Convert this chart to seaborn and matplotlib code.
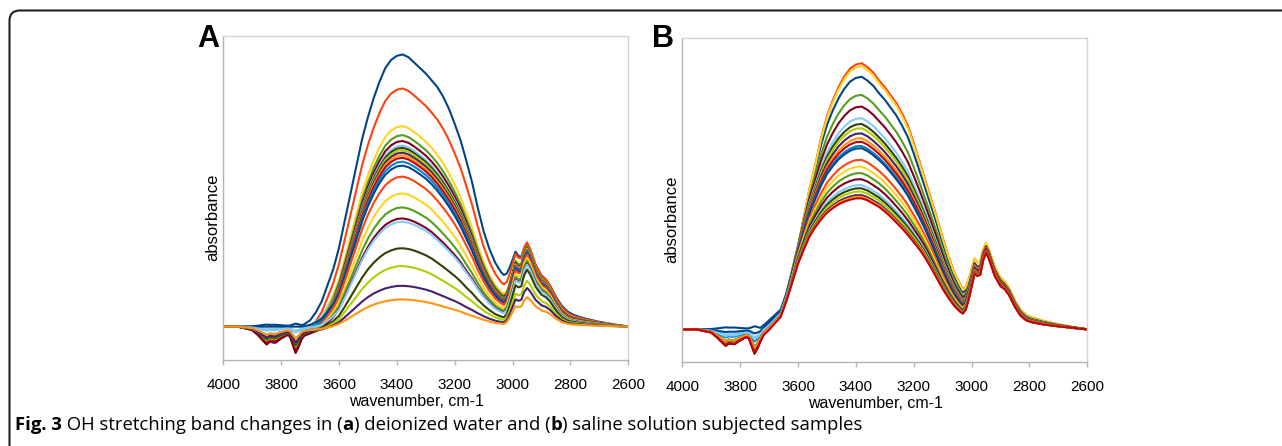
import numpy as np
import pandas as pd
import matplotlib
matplotlib.use("Agg")
import matplotlib.pyplot as plt
from matplotlib import font_manager
from matplotlib.patches import FancyBboxPatch
import seaborn as sns

# wavenumber grid (cm-1) the traces were read on
wavenumber = [4000, 3950, 3900, 3880, 3860, 3850, 3840, 3820, 3800, 3780,
              3770, 3760, 3750, 3740, 3730, 3720, 3700, 3680, 3660, 3640,
              3620, 3600, 3580, 3560, 3540, 3520, 3500, 3480, 3460, 3440,
              3420, 3400, 3380, 3360, 3340, 3320, 3300, 3280, 3260, 3240,
              3220, 3200, 3180, 3160, 3140, 3120, 3100, 3080, 3060, 3040,
              3030, 3020, 3010, 3000, 2990, 2980, 2970, 2960, 2950, 2940,
              2930, 2920, 2900, 2885, 2870, 2850, 2830, 2810, 2790, 2750,
              2700, 2650, 2600]

# OH band shape (normalised to 1) of the highest and lowest trace, panel A
oh_a_hi = [0.0] * 14 + [
    0.0, 0.005, 0.02, 0.05, 0.09, 0.15, 0.21, 0.29, 0.39, 0.49,
    0.59, 0.69, 0.77, 0.84, 0.90, 0.95, 0.98, 0.995, 1.0, 0.99,
    0.97, 0.95, 0.93, 0.905, 0.88, 0.845, 0.80, 0.745, 0.685, 0.61,
    0.53, 0.435, 0.35, 0.285, 0.235, 0.20, 0.19, 0.18, 0.17, 0.16,
    0.15, 0.14, 0.13, 0.12, 0.11, 0.105, 0.10, 0.095, 0.085, 0.078,
    0.07, 0.06, 0.05, 0.04, 0.032, 0.022, 0.013, 0.006, 0.0]
oh_a_lo = [0.0] * 14 + [
    0.0, 0.0, 0.0, 0.0, 0.0, 0.02, 0.05, 0.10, 0.22, 0.35,
    0.48, 0.61, 0.72, 0.81, 0.88, 0.935, 0.97, 0.995, 1.0, 0.99,
    0.97, 0.94, 0.905, 0.86, 0.80, 0.74, 0.68, 0.62, 0.55, 0.47,
    0.40, 0.32, 0.25, 0.19, 0.14, 0.11, 0.10, 0.09, 0.085, 0.08,
    0.075, 0.07, 0.065, 0.06, 0.055, 0.05, 0.048, 0.045, 0.04, 0.036,
    0.032, 0.028, 0.024, 0.02, 0.017, 0.012, 0.007, 0.003, 0.0]

# same for panel B
oh_b_hi = [0.0] * 14 + [
    0.0, 0.01, 0.03, 0.05, 0.07, 0.13, 0.22, 0.31, 0.42, 0.53,
    0.62, 0.72, 0.80, 0.86, 0.91, 0.95, 0.98, 0.995, 1.0, 0.985,
    0.965, 0.935, 0.91, 0.88, 0.85, 0.81, 0.765, 0.70, 0.63, 0.56,
    0.49, 0.42, 0.345, 0.275, 0.215, 0.17, 0.15, 0.14, 0.13, 0.12,
    0.112, 0.105, 0.10, 0.095, 0.09, 0.085, 0.08, 0.076, 0.068, 0.062,
    0.056, 0.047, 0.04, 0.034, 0.03, 0.022, 0.013, 0.006, 0.0]
oh_b_lo = [0.0] * 14 + [
    0.0, 0.02, 0.05, 0.09, 0.13, 0.24, 0.37, 0.50, 0.61, 0.71,
    0.78, 0.84, 0.89, 0.925, 0.955, 0.975, 0.99, 1.0, 1.0, 0.985,
    0.96, 0.935, 0.90, 0.86, 0.815, 0.77, 0.72, 0.665, 0.61, 0.545,
    0.47, 0.39, 0.31, 0.24, 0.18, 0.135, 0.12, 0.11, 0.10, 0.09,
    0.085, 0.08, 0.075, 0.07, 0.066, 0.062, 0.058, 0.055, 0.05, 0.046,
    0.042, 0.036, 0.03, 0.026, 0.022, 0.016, 0.01, 0.005, 0.0]

# CH stretching bands (normalised to 1 at 2950)
ch_band = [0.0] * 50 + [
    0.0, 0.08, 0.25, 0.45, 0.66, 0.63, 0.66, 0.88, 1.0, 0.92,
    0.80, 0.68, 0.54, 0.50, 0.42, 0.26, 0.14, 0.08, 0.06, 0.04,
    0.025, 0.012, 0.0]

# water vapour dips below the baseline
vapour = [0.0, 0.0, 0.008, 0.02, 0.035, 0.042, 0.036, 0.038, 0.028, 0.02,
          0.022, 0.042, 0.062, 0.048, 0.03, 0.022, 0.018, 0.015, 0.012, 0.008,
          0.004] + [0.0] * 52

colors12 = ["#004586", "#ff420e", "#ffd320", "#579d1c", "#7e0021", "#83caff",
            "#314004", "#aecf00", "#4b1f6f", "#ff950e", "#c5000b", "#0084d1"]

# panel A: deionized water
base_a = 0.103
peak_a = [0.943, 0.838, 0.722, 0.694, 0.676, 0.662, 0.655, 0.648, 0.640, 0.632,
          0.624, 0.612, 0.600, 0.566, 0.514, 0.471, 0.437, 0.427, 0.345, 0.290,
          0.229, 0.187]
ch_a = [0.16, 0.185, 0.19, 0.195, 0.19, 0.19, 0.195, 0.19, 0.19, 0.195,
        0.19, 0.19, 0.185, 0.185, 0.18, 0.175, 0.17, 0.168, 0.16, 0.13,
        0.112, 0.086]
vap_a = [-0.15, 1.0, 1.0, 1.0, 1.3, 0.2, 0.9, 0.9, 0.9, 0.9,
         1.2, 0.6, 0.0, 1.0, 1.0, 1.0, 1.3, 0.3, 0.9, 0.8,
         0.8, 0.6]

# panel B: saline solution
base_b = 0.100
peak_b = [0.881, 0.923, 0.914, 0.825, 0.789, 0.753, 0.735, 0.722, 0.706, 0.691,
          0.680, 0.667, 0.660, 0.624, 0.603, 0.583, 0.564, 0.546, 0.536, 0.526,
          0.515, 0.510, 0.505]
ch_b = [0.17, 0.192, 0.195, 0.195, 0.2, 0.2, 0.2, 0.2, 0.2, 0.2,
        0.205, 0.2, 0.2, 0.205, 0.205, 0.205, 0.21, 0.21, 0.21, 0.21,
        0.21, 0.21, 0.21]
vap_b = [-0.15, 1.0, 0.9, 1.0, 1.2, 0.4, 0.9, 0.9, 0.9, 0.9,
         1.2, 0.6, 0.2, 1.0, 1.0, 1.0, 1.2, 0.5, 0.9, 0.9,
         0.9, 0.9, 1.2]


def build(peaks, ch_amp, vap_amp, base, hi, lo):
    amp = np.array(peaks) - base
    hi, lo = np.array(hi), np.array(lo)
    frames = []
    for i, (a, c, v) in enumerate(zip(amp, ch_amp, vap_amp)):
        m = (amp.max() - a) / (amp.max() - amp.min())
        y = base + a * ((1 - m) * hi + m * lo) + c * np.array(ch_band) - v * np.array(vapour)
        frames.append(pd.DataFrame({"wavenumber": wavenumber, "absorbance": y,
                                    "series": f"s{i:02d}"}))
    return pd.concat(frames, ignore_index=True)


def family_with_bold(candidates):
    # first family that really has a bold face installed
    for fam in candidates:
        try:
            path = font_manager.findfont(font_manager.FontProperties(family=fam, weight="bold"),
                                         fallback_to_default=False)
        except Exception:
            continue
        if "bold" in path.lower():
            return fam
    return "DejaVu Sans"


df_a = build(peak_a, ch_a, vap_a, base_a, oh_a_hi, oh_a_lo)
df_b = build(peak_b, ch_b, vap_b, base_b, oh_b_hi, oh_b_lo)

sns.set_style("white")
plt.rcParams["font.family"] = ["Liberation Sans", "DejaVu Sans"]
plt.rcParams["text.color"] = "black"

W, H = 1282, 446
fig = plt.figure(figsize=(W / 100, H / 100), dpi=100)
ax_a = fig.add_axes([223.3 / W, (H - 360) / H, 405 / W, 324 / H])
ax_b = fig.add_axes([682.3 / W, (H - 361.7) / H, 405 / W, 323.4 / H])

for ax, df, letter, lx in [(ax_a, df_a, "A", 208), (ax_b, df_b, "B", 663)]:
    levels = list(dict.fromkeys(df["series"]))
    pal = [colors12[i % 12] for i in range(len(levels))]
    sns.lineplot(data=df, x="wavenumber", y="absorbance", hue="series",
                 hue_order=levels, palette=pal, legend=False, sort=False,
                 estimator=None, linewidth=1.5, ax=ax)
    ax.set_xlim(4000, 2600)
    ax.set_ylim(0, 1)
    ax.set_xticks(range(4000, 2599, -200))
    ax.set_yticks([])
    ax.set_xlabel("")
    ax.set_ylabel("")
    ax.tick_params(axis="x", bottom=True, length=3.6, width=1, color="#b3b3b3",
                   pad=9.5, labelsize=11, labelcolor="black")
    for sp in ax.spines.values():
        sp.set_color("#d4d4d4")
        sp.set_linewidth(1)
    ax.spines["bottom"].set_color("#b3b3b3")
    ax.spines["left"].set_color("#b3b3b3")
    ax.text(0.477, -0.128, "wavenumber, cm-1", transform=ax.transAxes,
            ha="center", va="center", fontsize=11.5, color="black")
    ax.text(-0.027, 0.44, "absorbance", transform=ax.transAxes, rotation=90,
            ha="center", va="center", fontsize=12, color="black")
    fig.text(lx / W, (H - 39) / H, letter, fontsize=22, fontweight="bold",
             ha="center", va="center", color="black")

# frame round the figure, open to the right and bottom
frame = FancyBboxPatch((9.5 / W, -0.2), 1.2, 1.2 - 10.5 / H,
                       boxstyle="round,pad=0,rounding_size=0.008",
                       mutation_aspect=W / H, transform=fig.transFigure,
                       fill=False, edgecolor="#222222", linewidth=1.5)
fig.patches.append(frame)

# caption with bold parts, sized so it runs from x=15 to about x=855
pieces = [("Fig. 3", "bold"), (" OH stretching band changes in (", "normal"),
          ("a", "bold"), (") deionized water and (", "normal"), ("b", "bold"),
          (") saline solution subjected samples", "normal")]
cap_family = family_with_bold(["Open Sans", "Noto Sans", "Lato", "Liberation Sans"])
renderer = fig.canvas.get_renderer()


def place_caption(size):
    texts = []
    x = 15 / W
    for s, w in pieces:
        t = fig.text(x, (H - 425) / H, s, fontsize=size, fontweight=w,
                     family=[cap_family, "DejaVu Sans"], va="center", color="black")
        texts.append(t)
        x = t.get_window_extent(renderer).x1 / fig.bbox.width
    return texts, x * W


texts, right = place_caption(12)
for t in texts:
    t.remove()
place_caption(12 * (855 - 15) / (right - 15))

fig.savefig("out.png", dpi=100)
